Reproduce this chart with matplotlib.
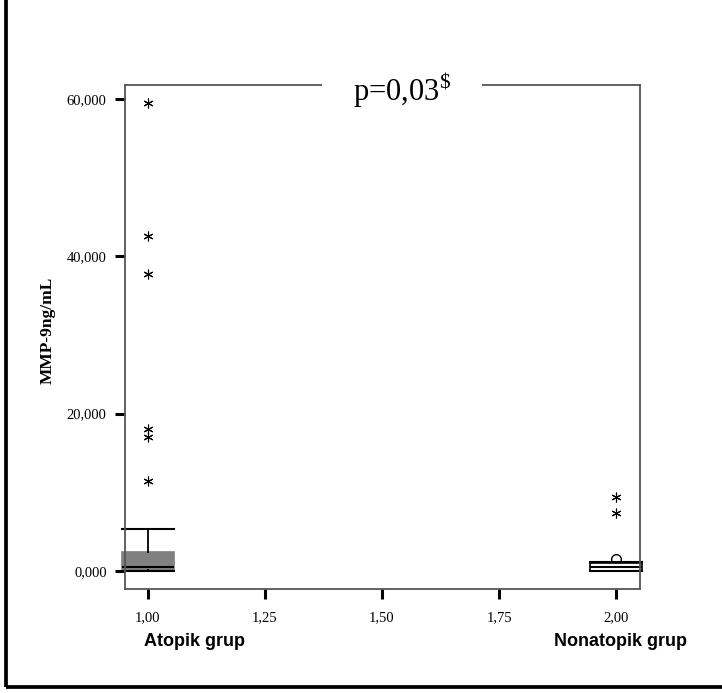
import matplotlib.pyplot as plt
from matplotlib.ticker import FuncFormatter
from matplotlib.patches import Rectangle

plt.rcParams['mathtext.fontset'] = 'custom'
plt.rcParams['mathtext.rm'] = 'Liberation Serif'

# box statistics (MMP-9 ng/mL)
positions = [1.0, 2.0]
q1 = [0.08, 0.0]
med = [0.53, 0.51]
q3 = [2.42, 1.02]
whislo = [0.0, 0.0]
whishi = [5.35, 1.10]
box_colors = ['#808080', 'white']

# SPSS: circles = outliers, stars = extremes
atopik_extremes = [59.49, 42.55, 37.70, 18.09, 17.07, 11.47]
nonatopik_extremes = [9.43, 7.39]
nonatopik_outliers = [1.53]

yticks = [0, 20, 40, 60]
xticks = [1.0, 1.25, 1.5, 1.75, 2.0]

fig = plt.figure(figsize=(7.22, 6.93), dpi=100)
ax = fig.add_axes([0.1731, 0.1501, 0.7133, 0.7273])

stats = []
for i in range(len(positions)):
    stats.append(dict(med=med[i], q1=q1[i], q3=q3[i], whislo=whislo[i],
                      whishi=whishi[i], fliers=[]))

bp = ax.bxp(stats, positions=positions, widths=0.11, capwidths=0.11,
            patch_artist=True, showfliers=False,
            medianprops=dict(color='black', lw=1.5),
            whiskerprops=dict(color='black', lw=1.3),
            capprops=dict(color='black', lw=1.5))
for patch, c in zip(bp['boxes'], box_colors):
    patch.set_facecolor(c)
    patch.set_edgecolor('#808080' if c != 'white' else 'black')
    patch.set_linewidth(1.2)
    patch.set_clip_on(False)
for art in bp['medians'] + bp['caps'] + bp['whiskers']:
    art.set_clip_on(False)

star = dict(marker=(6, 2, 0), color='black', markersize=7, lw=0,
            markeredgewidth=0.8, clip_on=False)
ax.plot([1.0] * len(atopik_extremes), atopik_extremes, **star)
ax.plot([2.0] * len(nonatopik_extremes), nonatopik_extremes, **star)
ax.plot([2.0] * len(nonatopik_outliers), nonatopik_outliers, marker='o',
        markersize=7, markerfacecolor='white', markeredgecolor='black',
        markeredgewidth=1.0, lw=0, clip_on=False, zorder=1)

ax.set_xlim(0.951, 2.051)
ax.set_ylim(-2.29, 61.78)
ax.set_xticks(xticks)
ax.set_yticks(yticks)
ax.xaxis.set_major_formatter(FuncFormatter(lambda v, p: f"{v:.2f}".replace('.', ',')))
ax.yaxis.set_major_formatter(FuncFormatter(lambda v, p: f"{v:.3f}".replace('.', ',')))
ax.tick_params(length=7.2, width=2.2, color='black', labelsize=10.5, pad=6)
for lab in ax.get_xticklabels() + ax.get_yticklabels():
    lab.set_fontfamily('Liberation Serif')
ax.tick_params(axis='x', pad=9)
for s in ax.spines.values():
    s.set_color('#555555')
    s.set_linewidth(1.3)

fig.text(402 / 722, 1 - 90 / 693, r"p=0,03$^{\mathrm{\$}}$", ha='center', va='center',
         fontsize=22, family='Liberation Serif', zorder=5,
         bbox=dict(boxstyle='square,pad=1.0', fc='white', ec='none'))

fig.text(48 / 722, 1 - 330 / 693, 'MMP-9ng/mL', rotation=90, ha='center', va='center',
         fontsize=12.5, fontweight='bold', family='Liberation Serif')
fig.text(195 / 722, 1 - 642 / 693, 'Atopik grup', ha='center', va='center',
         fontsize=13, fontweight='bold', family='Liberation Sans')
fig.text(620 / 722, 1 - 642 / 693, 'Nonatopik grup', ha='center', va='center',
         fontsize=13, fontweight='bold', family='Liberation Sans')

fig.patches.append(Rectangle((5.5 / 722, 6.5 / 693), 1.0, 1.0, transform=fig.transFigure,
                             fill=False, ec='black', lw=2.7, clip_on=False))

fig.savefig('out.png', dpi=100)
